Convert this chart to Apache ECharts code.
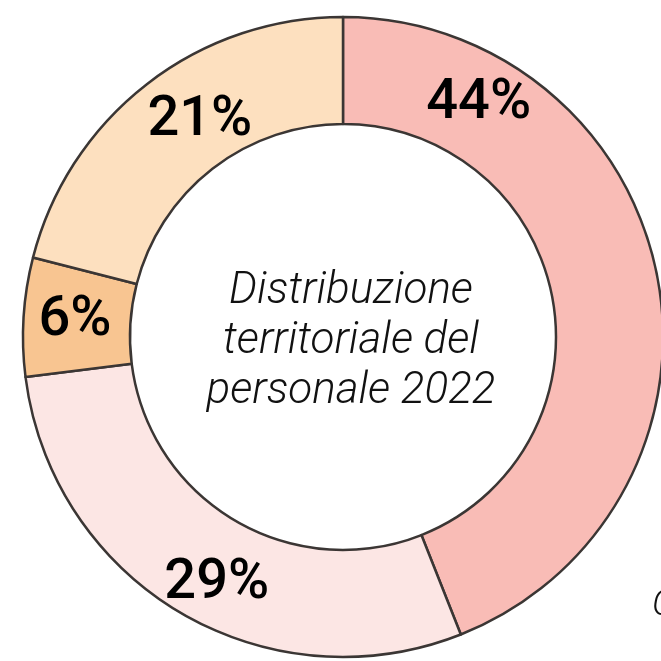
<!DOCTYPE html>
<html lang="it">
<head>
    <meta charset="UTF-8">
    <title></title>
    <style type="text/css">
        html,
        body,
        .canvas {
            padding: 0;
            margin: 0;
            overflow: hidden;
            background-color: #ffffff;
            width: 100%;
            height: 100%;
        }
    </style>
</head>
<body>
<div class="canvas" id="chart"></div>
<script type="text/javascript" src="https://cdn.jsdelivr.net/npm/echarts@6/dist/echarts.min.js"></script>
<script>
    // quote del personale per area (%)
    const areas = ['A', 'B', 'C', 'D'];
    const shares = [44, 29, 6, 21];
    const centerTitle = 'Distribuzione\nterritoriale del\npersonale 2022';

    const colors = ['#f9bcb6', '#fce6e4', '#f8c591', '#fde0bf'];

    const chart = echarts.init(document.getElementById('chart'), null, {renderer: 'canvas'});

    const option = {
        animation: false,
        series: [{
            type: 'pie',
            center: [343, 337],
            radius: [213, 320],
            startAngle: 90,
            clockwise: true,
            silent: true,
            data: areas.map(function (name, i) {
                return {name: name, value: shares[i], itemStyle: {color: colors[i]}};
            }),
            itemStyle: {
                borderColor: '#3b3634',
                borderWidth: 2.5
            },
            label: {
                show: true,
                position: 'inside',
                formatter: '{c}%',
                fontFamily: 'Roboto',
                fontWeight: 500,
                fontSize: 56,
                color: '#000000'
            },
            // il 44% sta in alto, non a metà arco
            labelLayout: function (p) {
                const shift = [[-129, -183], [11, 15], [1, 1], [22, -3]][p.dataIndex];
                return {dx: shift[0], dy: shift[1]};
            },
            labelLine: {show: false}
        }],
        graphic: [{
            type: 'text',
            x: 351,
            y: 342,
            style: {
                text: centerTitle,
                fontFamily: 'Roboto',
                fontStyle: 'italic',
                fontWeight: 300,
                fontSize: 44,
                lineHeight: 50,
                fill: '#111111',
                align: 'center',
                verticalAlign: 'middle'
            }
        }, {
            type: 'text',
            x: 652,
            y: 606,
            style: {
                text: 'C',
                fontFamily: 'Roboto',
                fontStyle: 'italic',
                fontWeight: 300,
                fontSize: 36,
                fill: '#111111',
                align: 'left',
                verticalAlign: 'middle'
            }
        }]
    };

    chart.setOption(option);
</script>
</body>
</html>
